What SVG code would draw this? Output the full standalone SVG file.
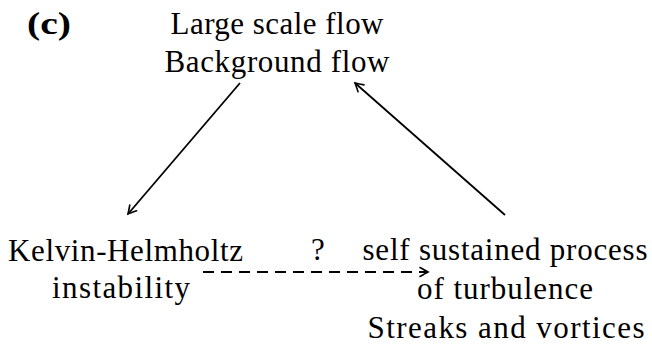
<svg xmlns="http://www.w3.org/2000/svg" width="652" height="347" viewBox="0 0 652 347">
<defs>
<style>
text{font-family:'Liberation Serif','DejaVu Serif',serif;font-size:31px;fill:#000}
.lbl{font-weight:bold;font-size:32px}
.c{text-anchor:middle}
.ln{fill:none;stroke:#000;stroke-width:1.8}
.dash{stroke-width:2;stroke-dasharray:11 7}
</style>
<marker id="ah" viewBox="-10 -6 12 12" refX="0" refY="0" markerWidth="12" markerHeight="12" markerUnits="userSpaceOnUse" orient="auto">
<path d="M-8,-4.5 Q-2,-1 0,0 Q-2,1 -8,4.5" fill="none" stroke="#000" stroke-width="1.6" stroke-linecap="round"/>
</marker>
</defs>
<rect width="652" height="347" fill="#fff"/>
<g font-family="Liberation Serif, serif">
<text class="lbl" x="27" y="34" textLength="44" lengthAdjust="spacingAndGlyphs">(c)</text>
<g id="top">
<text class="c" x="277" y="34" textLength="213">Large scale flow</text>
<text class="c" x="277" y="72" textLength="225">Background flow</text>
</g>
<g id="kh">
<text class="c" x="125.5" y="261" textLength="235">Kelvin-Helmholtz</text>
<text class="c" x="121" y="298" textLength="138">instability</text>
</g>
<g id="ssp">
<text class="c" x="505" y="260" textLength="285">self sustained process</text>
<text class="c" x="505" y="299" textLength="176">of turbulence</text>
<text class="c" x="506" y="338" textLength="277">Streaks and vortices</text>
</g>
<g id="connectors">
<line class="ln" x1="240" y1="83" x2="128" y2="214" marker-end="url(#ah)"/>
<line class="ln" x1="505" y1="215" x2="355" y2="83" marker-end="url(#ah)"/>
<line class="ln dash" x1="203" y1="272" x2="428" y2="272" marker-end="url(#ah)"/>
<text class="c" x="318" y="260">?</text>
</g>
</g>
</svg>
